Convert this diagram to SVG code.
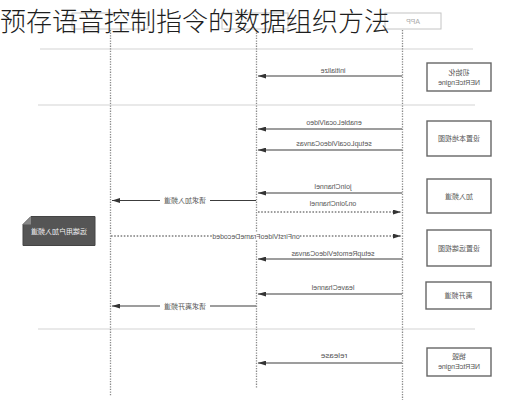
<svg xmlns="http://www.w3.org/2000/svg" width="507" height="400" viewBox="0 0 507 400">
<defs>
<style>
.sep{stroke:#d4d4d4;stroke-width:1.2}
.life{stroke:#8a8a8a;stroke-width:1.3;stroke-dasharray:1.3 1.3;fill:none}
.msg{stroke:#3c3c3c;stroke-width:1.2;fill:none}
.dmsg{stroke:#3c3c3c;stroke-width:1;stroke-dasharray:1.6 1.6;fill:none}
.lbl{font-family:"Liberation Sans","Noto Sans CJK SC",sans-serif;font-size:7px;fill:#555;text-anchor:middle}
.box{fill:#fff;stroke:#666;stroke-width:1.4}
.hdr{fill:#fff;stroke:#c4c4c4;stroke-width:1}
.title{font-family:"Noto Sans CJK SC",sans-serif;font-size:26px;font-weight:300;fill:#1e1e1e}
</style>
<marker id="ah" viewBox="0 0 10 6" refX="10" refY="3" markerWidth="8" markerHeight="5" markerUnits="userSpaceOnUse" orient="auto">
<path d="M0,0 L10,3 L0,6 Z" fill="#333"/>
</marker>
</defs>
<rect width="507" height="400" fill="#fff"/>

<g id="separators">
<line class="sep" x1="40" y1="49" x2="473" y2="49"/>
<line class="sep" x1="38" y1="105" x2="475" y2="105"/>
<line class="sep" x1="38" y1="329" x2="475" y2="329"/>
</g>

<g id="headers">
<rect class="hdr" x="72" y="13" width="76" height="16"/>
<rect class="hdr" x="222" y="13" width="66" height="16"/>
<g id="hdr-app">
<rect class="hdr" x="385" y="13" width="56" height="16"/>
<text class="lbl" style="fill:#aaa" transform="translate(413 23.5) scale(-1 1)">APP</text>
</g>
</g>

<g id="lifelines">
<line class="life" x1="110.5" y1="30" x2="110.5" y2="396"/>
<line class="life" x1="256.5" y1="30" x2="256.5" y2="388"/>
<line class="life" x1="402.5" y1="30" x2="402.5" y2="400"/>
</g>

<g id="connectors">
<line class="msg" x1="402" y1="76" x2="258" y2="76" marker-end="url(#ah)"/>
<text class="lbl" transform="translate(333 72.5) scale(-1 1)">initialize</text>

<line class="msg" x1="402" y1="129" x2="258" y2="129" marker-end="url(#ah)"/>
<text class="lbl" transform="translate(334 124.5) scale(-1 1)">enableLocalVideo</text>

<line class="msg" x1="402" y1="150" x2="258" y2="150" marker-end="url(#ah)"/>
<text class="lbl" transform="translate(334 146) scale(-1 1)">setupLocalVideoCanvas</text>

<line class="msg" x1="402" y1="193" x2="258" y2="193" marker-end="url(#ah)"/>
<text class="lbl" transform="translate(333 189) scale(-1 1)">joinChannel</text>

<line class="dmsg" x1="258" y1="212" x2="401" y2="212" marker-end="url(#ah)"/>
<text class="lbl" transform="translate(333 206) scale(-1 1)">onJoinChannel</text>

<line class="dmsg" x1="111" y1="236" x2="401" y2="236" marker-end="url(#ah)"/>
<rect x="213" y="232" width="86" height="8" fill="#fff"/>
<text class="lbl" transform="translate(256 238.5) scale(-1 1)">onFirstVideoFrameDecoded</text>

<line class="msg" x1="402" y1="259" x2="258" y2="259" marker-end="url(#ah)"/>
<text class="lbl" transform="translate(333 255.5) scale(-1 1)">setupRemoteVideoCanvas</text>

<line class="msg" x1="402" y1="294" x2="258" y2="294" marker-end="url(#ah)"/>
<text class="lbl" transform="translate(333 290) scale(-1 1)">leaveChannel</text>

<line class="msg" x1="402" y1="363" x2="258" y2="363" marker-end="url(#ah)"/>
<text class="lbl" style="font-size:8px" transform="translate(334 358) scale(-1 1)">release</text>

<line class="msg" x1="256" y1="200.5" x2="112" y2="200.5" marker-end="url(#ah)"/>
<rect x="160" y="196" width="50" height="9" fill="#fff"/>
<text class="lbl" transform="translate(185 203) scale(-1 1)">请求加入频道</text>

<line class="msg" x1="256" y1="306" x2="112" y2="306" marker-end="url(#ah)"/>
<rect x="160" y="301.5" width="50" height="9" fill="#fff"/>
<text class="lbl" transform="translate(185 308.5) scale(-1 1)">请求离开频道</text>
</g>

<g id="note-remote-join">
<path d="M31,216.5 L95,216.5 L95,245.5 L23,245.5 L23,224.5 Z" fill="#555" stroke="#444" stroke-width="1"/>
<path d="M23,224.5 L31,224.5 L31,216.5 Z" fill="#888"/>
<text class="lbl" style="fill:#f2f2f2" transform="translate(59 233.5) scale(-1 1)">远端用户加入频道</text>
</g>

<g id="node-init">
<rect class="box" x="427" y="63" width="64" height="28"/>
<text class="lbl" transform="translate(459 75) scale(-1 1)">初始化</text>
<text class="lbl" transform="translate(459 85) scale(-1 1)">NERtcEngine</text>
</g>
<g id="node-local-view">
<rect class="box" x="427" y="121" width="64" height="35"/>
<text class="lbl" transform="translate(459 141) scale(-1 1)">设置本地视图</text>
</g>
<g id="node-join">
<rect class="box" x="427" y="179" width="64" height="34"/>
<text class="lbl" transform="translate(459 198.5) scale(-1 1)">加入频道</text>
</g>
<g id="node-remote-view">
<rect class="box" x="427" y="230" width="64" height="36"/>
<text class="lbl" transform="translate(459 250.5) scale(-1 1)">设置远端视图</text>
</g>
<g id="node-leave">
<rect class="box" x="426" y="282" width="65" height="27"/>
<text class="lbl" transform="translate(458.5 298) scale(-1 1)">离开频道</text>
</g>
<g id="node-destroy">
<rect class="box" x="427" y="348" width="64" height="28"/>
<text class="lbl" transform="translate(459 359) scale(-1 1)">销毁</text>
<text class="lbl" transform="translate(459 369) scale(-1 1)">NERtcEngine</text>
</g>

<g id="title">
<text class="title" x="0" y="31">预存语音控制指令的数据组织方法</text>
</g>
</svg>
